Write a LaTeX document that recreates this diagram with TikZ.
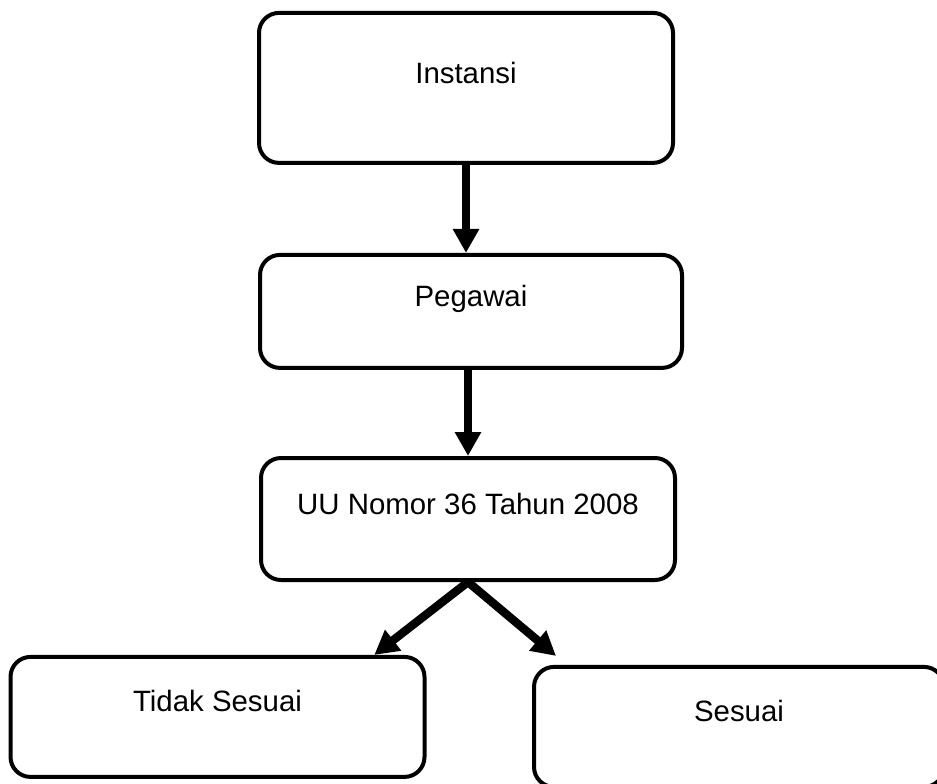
\documentclass[tikz,border=0pt]{standalone}
\usepackage{fontspec}
\setmainfont{Liberation Sans}
\usetikzlibrary{arrows.meta,calc}
\begin{document}
\begin{tikzpicture}[x=0.5pt,y=-0.5pt,
  kotak/.style={draw,line width=2pt,rounded corners=10pt,anchor=base,inner xsep=0pt,inner ysep=0pt,minimum width=207pt,text height=27.4pt,text depth=32.6pt,font=\fontsize{14.7}{17}\selectfont},
  panah/.style={line width=4.2pt,-{Triangle[width=12.5pt,length=12pt]}}]
\useasboundingbox (0,0) rectangle (937,783);
\node[kotak,text height=35.2pt,text depth=39.8pt] (inst) at (466,83.3) {Instansi};
\node[kotak,minimum width=211pt,text height=25.9pt,text depth=30.6pt] (peg) at (471,306.7) {Pegawai};
\node[kotak,text height=28pt,text depth=33pt] (uu) at (468,514) {UU Nomor 36 Tahun 2008};
\node[kotak] (tidak) at (217.5,711.7) {Tidak Sesuai};
\node[kotak,minimum width=205pt] (ses) at (739,721.7) {Sesuai};
\draw[panah] (inst.south) -- (inst.south |- peg.north);
\draw[panah] (uu.north |- peg.south) -- (uu.north);
\draw[panah] (uu.south) -- ($(tidak.north east)!.25!(tidak.north)$);
\draw[panah] (uu.south) -- ($(ses.north west)+(24,-9)$);
\end{tikzpicture}
\end{document}
